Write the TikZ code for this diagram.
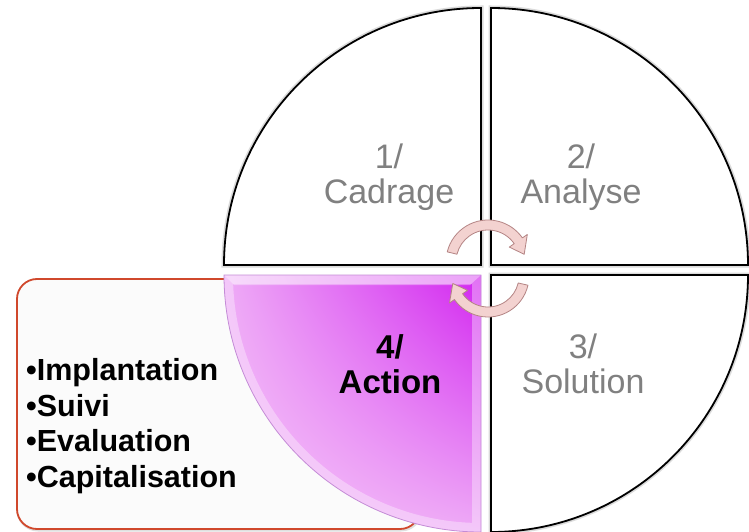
\documentclass[tikz,border=0pt]{standalone}
\usepackage{fontspec}
\setmainfont{Liberation Sans}
\usetikzlibrary{shadings}
\definecolor{labgray}{RGB}{128,128,128}
\definecolor{boxred}{RGB}{208,72,44}
\definecolor{magA}{RGB}{210,36,240}
\definecolor{magB}{RGB}{238,170,246}
\definecolor{magC}{RGB}{246,200,249}
\definecolor{magline}{RGB}{196,140,214}
\definecolor{arrfill}{RGB}{243,210,208}
\definecolor{arrline}{RGB}{180,132,132}
\tikzset{
  quad/.style={fill=white, draw=black, line width=1.8pt},
  quadshadow/.style={draw=gray!28, line width=5pt},
  lab/.style={align=center, text=labgray, inner sep=0pt, font=\fontsize{34}{35}\selectfont},
  actlab/.style={align=center, text=black, inner sep=0pt, font=\bfseries\fontsize{33}{35}\selectfont},
  cyclearrow/.style={fill=arrfill, draw=arrline, line width=0.8pt, line join=round},
}
\begin{document}
\begin{tikzpicture}[x=1pt,y=1pt]
\useasboundingbox (0,0) rectangle (749,531);
\clip (0,0) rectangle (749,531);
\fill[white] (0,0) rectangle (749,531);

% red rounded box
\draw[gray!25, line width=3pt, rounded corners=20pt] (18,1) rectangle (421,251);
\draw[boxred, line width=1.8pt, fill=gray!3, rounded corners=20pt] (17,2) rectangle (420,252);

% shadows of quadrants
\draw[quadshadow] (481,266) -- (224,266) arc[start angle=180, end angle=90, radius=257pt] -- cycle;
\draw[quadshadow] (491,266) -- (491,523) arc[start angle=90, end angle=0, radius=257pt] -- cycle;
\draw[quadshadow] (491,256) -- (748,256) arc[start angle=0, end angle=-90, radius=257pt] -- cycle;

% quadrants 1-3
\draw[quad] (481,266) -- (224,266) arc[start angle=180, end angle=90, radius=257pt] -- cycle;
\draw[quad] (491,266) -- (491,523) arc[start angle=90, end angle=0, radius=257pt] -- cycle;
\draw[quad] (491,256) -- (748,256) arc[start angle=0, end angle=-90, radius=257pt] -- cycle;

% quadrant 4 (highlighted)
\shade[upper right=magA, upper left=magB, lower right=magB, lower left=magC]
  (481,256) -- (481,-1) arc[start angle=-90, end angle=-180, radius=257pt] -- cycle;
\begin{scope}
  \clip (481,256) -- (481,-1) arc[start angle=-90, end angle=-180, radius=257pt] -- cycle;
  \draw[white, opacity=0.35, line width=18pt]
    (481,256) -- (481,-1) arc[start angle=-90, end angle=-180, radius=257pt] -- cycle;
  \fill[white, opacity=0.35] (224,256) -- (481,256) -- (470,246) -- (234,246) -- cycle;
\end{scope}
\draw[magline, line width=0.8pt]
  (481,256) -- (481,-1) arc[start angle=-90, end angle=-180, radius=257pt] -- cycle;

% labels
\node[lab] (l1) at (389,354) {1/\\Cadrage};
\node[lab] (l2) at (581,354) {2/\\Analyse};
\node[lab] (l3) at (583,167) {3/\\Solution};
\node[actlab] (l4) at (390,167) {4/\\Action};

% list
\node[anchor=west, align=left, inner sep=0pt, font=\bfseries\fontsize{30.5}{35.5}\selectfont] (list) at (26,105)
  {•Implantation\\•Suivi\\•Evaluation\\•Capitalisation};

% cycle arrows
\draw[cyclearrow, shift={(488,269)}]
  (166:42pt) arc[start angle=166, end angle=35, radius=42pt] -- (35:48pt) -- (12:37pt)
  -- (35:26pt) -- (35:32pt) arc[start angle=35, end angle=166, radius=32pt] -- cycle;
\draw[cyclearrow, shift={(488,255)}]
  (-13:41pt) arc[start angle=-13, end angle=-145, radius=41pt] -- (-145:47pt) -- (-168:36pt)
  -- (-145:25pt) -- (-145:31pt) arc[start angle=-145, end angle=-13, radius=31pt] -- cycle;
\end{tikzpicture}
\end{document}
